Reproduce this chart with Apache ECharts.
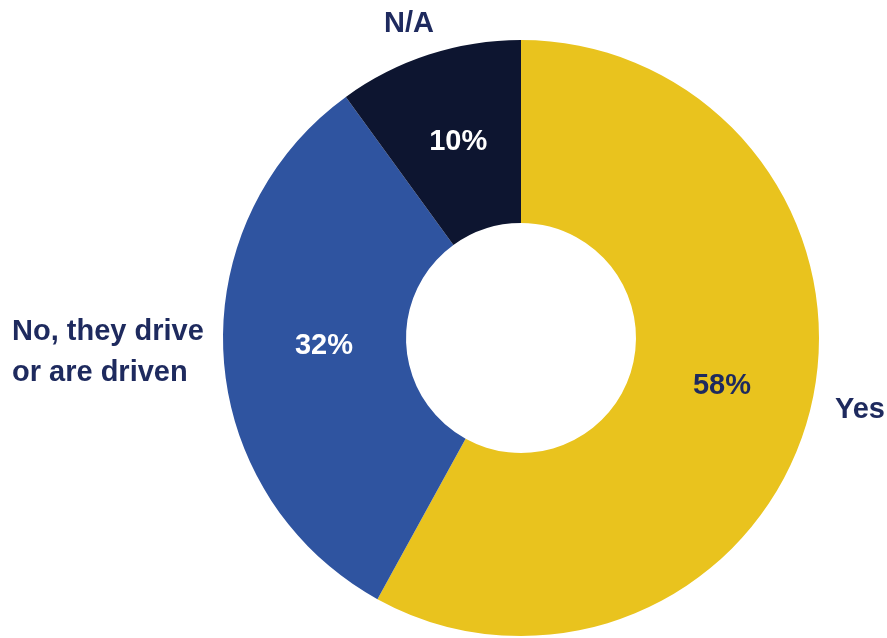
<!DOCTYPE html>
<html>
<head>
<meta charset="utf-8">
<script src="https://cdn.jsdelivr.net/npm/echarts@6/dist/echarts.min.js"></script>
<style>
  html, body { margin: 0; padding: 0; background: #fff; }
  #chart { width: 887px; height: 638px; }
</style>
</head>
<body>
<div id="chart"></div>
<script>
// donut: share of respondents
var categories = ['Yes', 'No, they drive\nor are driven', 'N/A'];
var values = [58, 32, 10];

var sliceColors = ['#E9C31E', '#2F54A0', '#0D1530'];
var pctColors = ['#1E2A5E', '#ffffff', '#ffffff'];
var pctOffsets = [[-2, -4], [12, -5], [2, 3]];
var textDark = '#1E2A5E';

// where the category names sit (outside the ring)
var namePos = [
    { x: 885, y: 410, align: 'right' },
    { x: 12, y: 352, align: 'left' },
    { x: 409, y: 24, align: 'center' }
];

var chart = echarts.init(document.getElementById('chart'));

var data = [];
for (var i = 0; i < categories.length; i++) {
    data.push({
        name: categories[i],
        value: values[i],
        itemStyle: { color: sliceColors[i] },
        label: { color: pctColors[i], offset: pctOffsets[i] }
    });
}

var names = [];
for (var j = 0; j < categories.length; j++) {
    names.push({
        type: 'text',
        x: namePos[j].x,
        y: namePos[j].y,
        style: {
            text: categories[j],
            fill: textDark,
            font: 'bold 29px "Liberation Sans", Arial, sans-serif',
            lineHeight: 41,
            align: namePos[j].align,
            verticalAlign: 'middle'
        }
    });
}

var option = {
    animation: false,
    series: [
        {
            type: 'pie',
            center: [521, 338],
            radius: [115, 298],
            startAngle: 90,
            clockwise: true,
            avoidLabelOverlap: false,
            label: {
                show: true,
                position: 'inside',
                formatter: '{c}%',
                fontFamily: '"Liberation Sans", Arial, sans-serif',
                fontWeight: 'bold',
                fontSize: 29
            },
            labelLine: { show: false },
            emphasis: { disabled: true },
            data: data
        }
    ],
    graphic: names
};
chart.setOption(option);
</script>
</body>
</html>
